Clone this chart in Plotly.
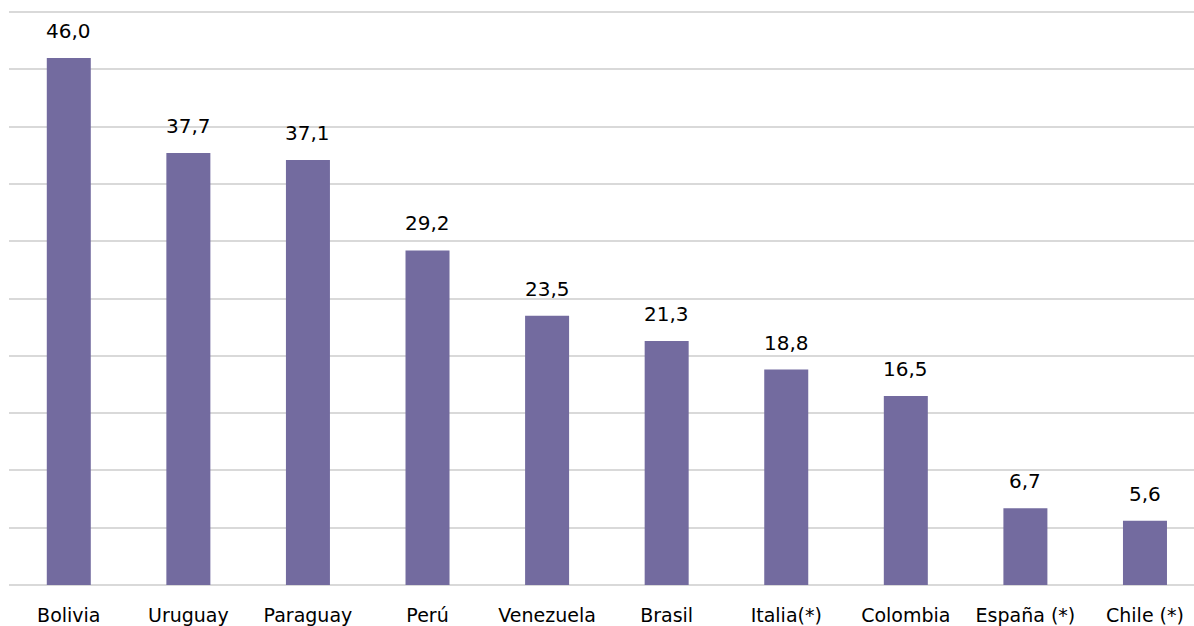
import plotly.graph_objects as go

countries = ["Bolivia", "Uruguay", "Paraguay", "Perú", "Venezuela", "Brasil",
             "Italia(*)", "Colombia", "España (*)", "Chile (*)"]
values = [46.0, 37.7, 37.1, 29.2, 23.5, 21.3, 18.8, 16.5, 6.7, 5.6]

bar_color = "#736b9f"
font_family = "'DejaVu Sans', sans-serif"

fig = go.Figure(go.Bar(
    x=countries, y=values,
    marker=dict(color=bar_color, line=dict(width=0)),
    hoverinfo="skip",
))

for c, v in zip(countries, values):
    fig.add_annotation(
        x=c, y=v, text=f"{v:.1f}".replace(".", ","),
        showarrow=False, yanchor="bottom", yshift=13,
        font=dict(family=font_family, size=20, color="#000000"),
    )

fig.update_layout(
    width=1194, height=626,
    margin=dict(l=9, r=0, t=11, b=39),
    plot_bgcolor="white", paper_bgcolor="white",
    bargap=0.632,
    showlegend=False,
    separators=",.",
    font=dict(family=font_family, size=19, color="#000000"),
    xaxis=dict(
        range=[-0.5, 9.41],
        showgrid=False, zeroline=False, showline=False,
        ticks="", ticklabelstandoff=17,
        tickfont=dict(family=font_family, size=19, color="#000000"),
        fixedrange=True,
    ),
    yaxis=dict(
        range=[0, 50.1], tickmode="linear", tick0=0, dtick=5,
        showgrid=True, gridcolor="#d9d9d9", gridwidth=2,
        zeroline=True, zerolinecolor="#d9d9d9", zerolinewidth=2,
        showticklabels=False, ticks="", showline=False,
        fixedrange=True,
    ),
)

fig.write_html("out.html")
